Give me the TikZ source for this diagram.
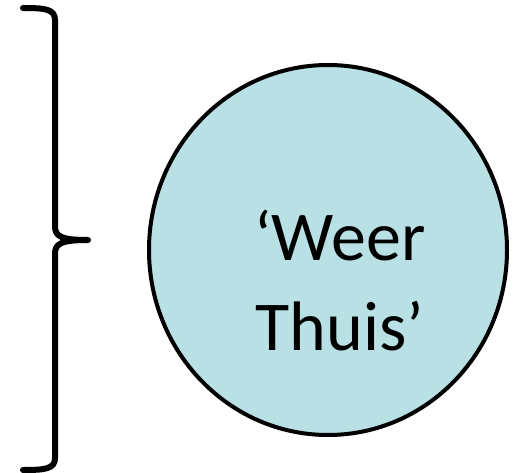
\documentclass[tikz,border=0pt]{standalone}
\usepackage{fontspec}
\setmainfont{Carlito}
\usepackage{xcolor}
\usepackage{tikz}
\usetikzlibrary{shapes.geometric}
\definecolor{ink}{HTML}{000000}
\definecolor{pale}{HTML}{B9E0E4}
\tikzset{
  brace/.style={line width=6pt, draw=ink, line cap=round, line join=round},
  bubble/.style={ellipse, draw=ink, fill=pale, line width=4pt, inner sep=0pt,
    minimum width=358pt, minimum height=370pt},
  lab/.style={text=ink, font=\fontsize{70}{90}\selectfont, align=center}
}

\begin{document}
\begin{tikzpicture}[x=1pt, y=-1pt]
  \useasboundingbox (0,0) rectangle (524,473);

  \coordinate (top) at (23,8);
  \coordinate (tip) at (88,240);
  \coordinate (bot) at (23,470);

  \draw[brace] (top) .. controls (45,8) and (55,9) .. (55,20)
    -- (55,226) .. controls (55,236) and (60,240) .. (tip)
    .. controls (60,240) and (55,244) .. (55,254)
    -- (55,458) .. controls (55,469) and (45,470) .. (bot);

  \node[bubble] (home) at (328,250) {};
  \node[lab] (homelbl) at (340,281) {‘Weer\\Thuis’};
\end{tikzpicture}
\end{document}
